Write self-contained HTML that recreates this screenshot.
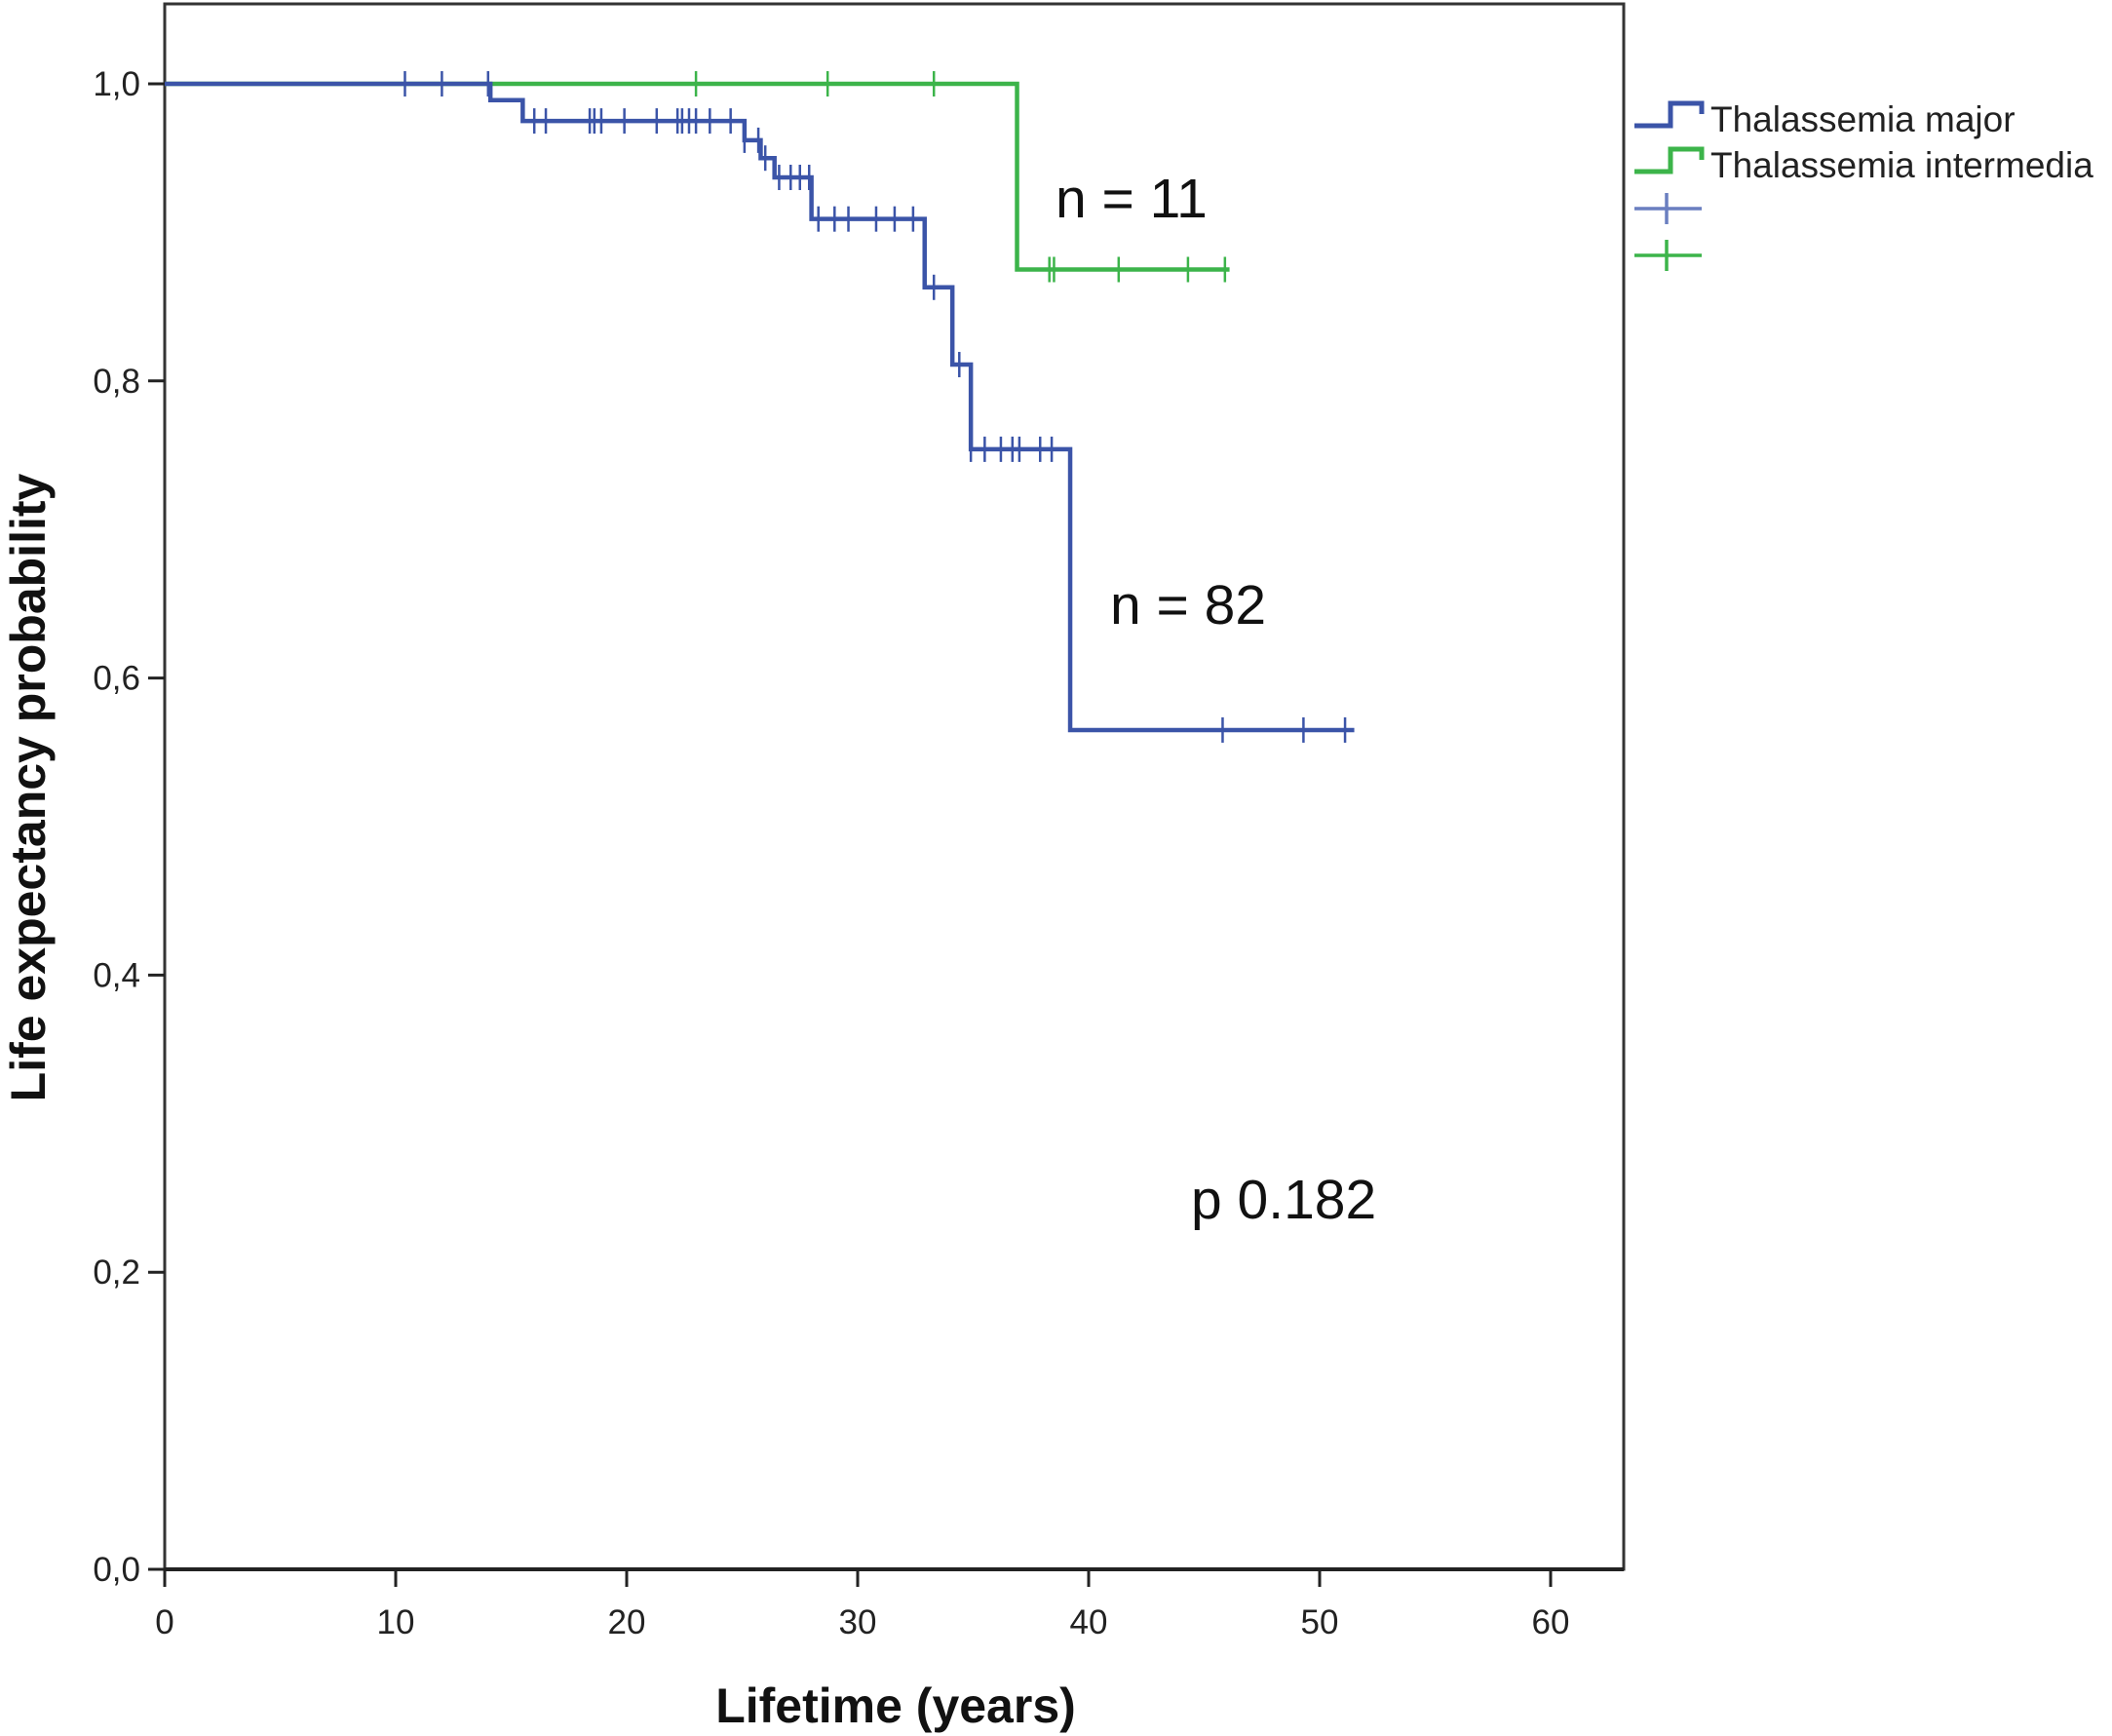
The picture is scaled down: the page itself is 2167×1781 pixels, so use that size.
<!DOCTYPE html>
<html><head><meta charset="utf-8"><style>
html,body{margin:0;padding:0;background:#fff;}
svg{display:block;font-family:"Liberation Sans",Arial,sans-serif;}
</style></head><body>
<svg id="chart" width="2167" height="1781" viewBox="0 0 2167 1781"></svg>
<script>
// ---- data ----
const xTicks = [0,10,20,30,40,50,60];
const yTicks = [0,0.2,0.4,0.6,0.8,1.0];
const yTickLabels = ["0,0","0,2","0,4","0,6","0,8","1,0"];
const majorEventTimes = [0,14.1,15.5,25.1,25.8,26.4,28.0,32.9,34.1,34.9,39.2];
const majorSurvival   = [1.0,0.989,0.975,0.962,0.95,0.937,0.909,0.863,0.811,0.754,0.565];
const majorEndTime = 51.5;
const majorCensorTimes = [10.4,12.0,14.0,16.0,16.5,18.4,18.6,18.9,19.9,21.3,22.2,22.4,22.7,23.0,23.6,24.5,25.1,25.7,26.0,26.6,27.1,27.5,27.9,28.3,29.0,29.6,30.8,31.6,32.4,33.3,34.4,34.9,35.5,36.2,36.7,37.0,37.9,38.4,45.8,49.3,51.1];
const intermEventTimes = [0,36.9];
const intermSurvival   = [1.0,0.875];
const intermEndTime = 46.1;
const intermCensorTimes = [23.0,28.7,33.3,38.3,38.5,41.3,44.3,45.9];

// ---- axes ----
const X0=169, X1=1591, Y0=1610, Y1=86;
const sx = v => X0 + (X1-X0)*v/60;
const sy = v => Y0 - (Y0-Y1)*v;
const NS="http://www.w3.org/2000/svg";
const svg=document.getElementById('chart');
function mk(tag,attrs,parent){const e=document.createElementNS(NS,tag);for(const k in attrs)e.setAttribute(k,attrs[k]);(parent||svg).appendChild(e);return e;}

const frame=mk('rect',{x:169,y:4,width:1497,height:1606,fill:'none',stroke:'#333',"stroke-width":3});



const yAxis=mk('g',{});


yTicks.forEach((t,i)=>{
  mk('line',{x1:152,x2:169,y1:sy(t),y2:sy(t),stroke:'#222',"stroke-width":3},yAxis);
  const tx=mk('text',{x:144,y:sy(t)+12,"text-anchor":"end","font-size":35,fill:'#222'},yAxis);
  tx.textContent=yTickLabels[i];
  
  
});
const xAxis=mk('g',{});


xTicks.forEach(t=>{
  mk('line',{x1:sx(t),x2:sx(t),y1:1610,y2:1628,stroke:'#222',"stroke-width":3},xAxis);
  const tx=mk('text',{x:sx(t),y:1676,"text-anchor":"middle","font-size":35,fill:'#222'},xAxis);
  tx.textContent=String(t);
  
  
});
mk('line',{x1:169,x2:1666,y1:1610,y2:1610,stroke:'#222',"stroke-width":4},xAxis);

const xt=mk('text',{x:919,y:1767,"text-anchor":"middle","font-size":50,"font-weight":"bold",fill:'#111'});
xt.textContent='Lifetime (years)';


const yt=mk('text',{x:0,y:0,"text-anchor":"middle","font-size":50,"font-weight":"bold",fill:'#111',transform:'translate(46,808) rotate(-90)'});
yt.textContent='Life expectancy probability';



function stepPath(times,surv,end){
  let d=`M${sx(times[0])},${sy(surv[0])}`;
  for(let i=1;i<times.length;i++){d+=` H${sx(times[i])} V${sy(surv[i])}`;}
  d+=` H${sx(end)}`;return d;
}
function survAt(times,surv,t){let s=surv[0];for(let i=0;i<times.length;i++){if(times[i]<=t)s=surv[i];}return s;}

function series(name,color,times,surv,end,cens){
  const g=mk('g',{});
  
  
  mk('path',{d:stepPath(times,surv,end),fill:'none',stroke:color,"stroke-width":4.5},g);
  cens.forEach(c=>{
    const y=sy(survAt(times,surv,c));
    const l=mk('line',{x1:sx(c),x2:sx(c),y1:y-13,y2:y+13,stroke:color,"stroke-width":2.5},g);
    
    
  });
}
series('intermedia-curve','#3cb44a',intermEventTimes,intermSurvival,intermEndTime,intermCensorTimes);
series('major-curve','#3b54a8',majorEventTimes,majorSurvival,majorEndTime,majorCensorTimes);

function ann(txt,x,y,name){const t=mk('text',{x:x,y:y,"font-size":57,fill:'#111'});t.textContent=txt;}
ann('n = 11',1083,223,'n-intermedia-label');
ann('n = 82',1139,640,'n-major-label');
ann('p 0.182',1222,1250,'p-value-label');

const lg=mk('g',{});


[['#3b54a8','Thalassemia major',122],['#3cb44a','Thalassemia intermedia',169]].forEach(([c,lab,y])=>{
  const e=mk('g',{},lg);
  
  
  mk('path',{d:`M1677,${y+7} H1714 V${y-16} H1746 V${y-5}`,fill:'none',stroke:c,"stroke-width":5},e);
  const t=mk('text',{x:1755,y:y+13,"font-size":37,fill:'#222'},e);
  t.textContent=lab;
});
[['#6a7fc0',214],['#3cb44a',262]].forEach(([c,y])=>{
  const e=mk('g',{},lg);
  
  
  mk('line',{x1:1677,x2:1746,y1:y,y2:y,stroke:c,"stroke-width":3.5},e);
  mk('line',{x1:1710,x2:1710,y1:y-16,y2:y+16,stroke:c,"stroke-width":3.5},e);
});
</script>
</body></html>
